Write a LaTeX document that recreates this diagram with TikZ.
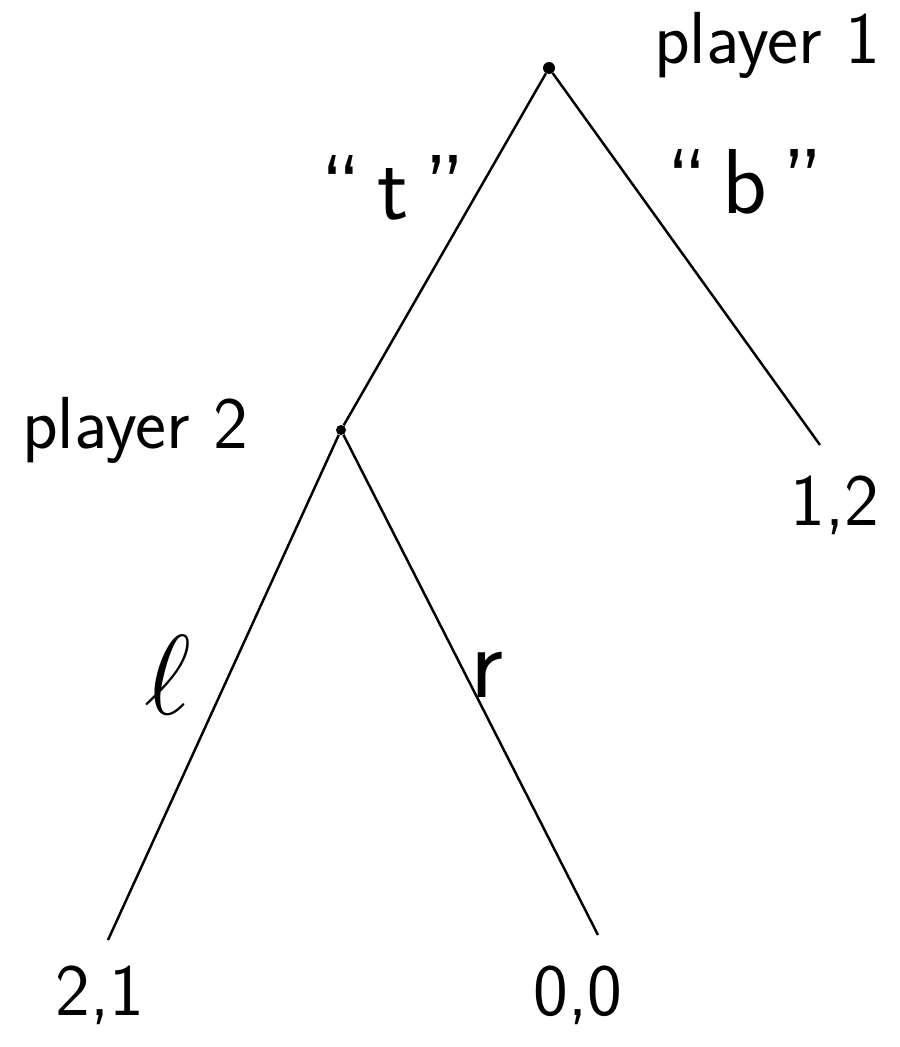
\documentclass[tikz,border=0pt]{standalone}
\usepackage{tikz}
\usepackage{amsmath}

\begin{document}
\begin{tikzpicture}[
    x=0.02cm, y=-0.02cm,
    every node/.style={font=\sffamily\fontsize{42}{48}\selectfont},
    move/.style={circle, fill=black, inner sep=0pt, minimum size=0.24cm},
    branch/.style={line width=1.4pt}
]
\useasboundingbox (0,0) rectangle (899,1047);

% --- Decision nodes ---
\node[move] (p1) at (549,68) {};
\node[move, minimum size=0.2cm] (p2) at (341,430) {};

% --- Ends of the branches ---
\coordinate (endb) at (820,445);
\coordinate (endl) at (108,940);
\coordinate (endr) at (598,935);

% --- Branches ---
\draw[branch] (p1) -- (p2);
\draw[branch] (p1) -- (endb);
\draw[branch] (p2) -- (endl);
\draw[branch] (p2) -- (endr);

% --- Players ---
\node (name1) at (767,45) {player 1};
\node (name2) at (135,430) {player 2};

% --- Action labels ---
\node[scale=1.25] (labt) at (393,188) {``\,t\,''};
\node[scale=1.25] (labb) at (745,182) {``\,b\,''};
\node[scale=2.6] (labl) at (168,675) {$\ell$};
\node[scale=1.4] (labr) at (487,675) {r};

% --- Payoffs ---
\node (pay12) at (835,505) {1,2};
\node (pay21) at (100,995) {2,1};
\node (pay00) at (578,995) {0,0};

\end{tikzpicture}
\end{document}
